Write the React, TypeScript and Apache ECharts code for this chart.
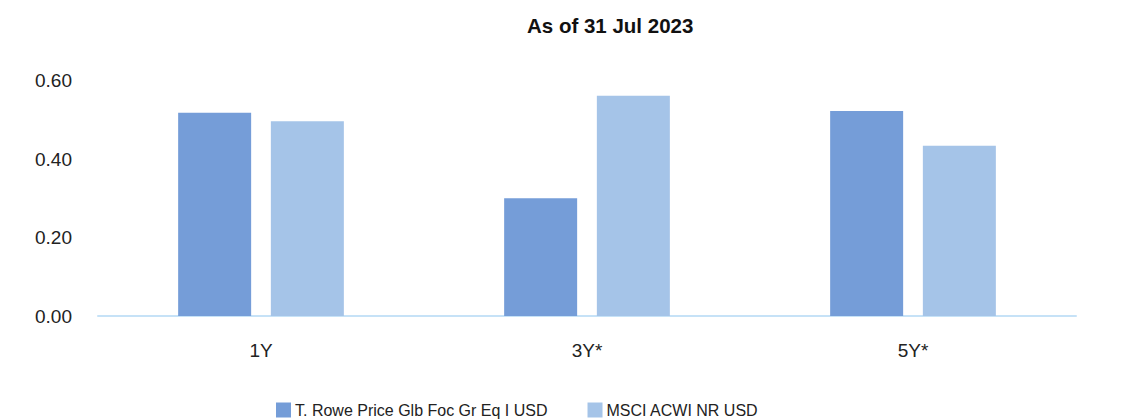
import React, { useEffect, useRef } from "react";
import * as echarts from "echarts";

const categories = ["1Y", "3Y*", "5Y*"];
const fundName = "T. Rowe Price Glb Foc Gr Eq I USD";
const benchName = "MSCI ACWI NR USD";
const fundValues = [0.518, 0.3, 0.522];
const benchValues = [0.496, 0.561, 0.434];
const yTicks = { min: 0, max: 0.6, interval: 0.2 };
const titleText = "As of 31 Jul 2023";

const FONT = "'Liberation Sans', Arial, Helvetica, sans-serif";

export default function App() {
  const ref = useRef<HTMLDivElement>(null);
  useEffect(() => {
    if (!ref.current) return;
    const chart = echarts.init(ref.current, undefined, { renderer: "svg" });
    chart.setOption({
      animation: false,
      backgroundColor: "#ffffff",
      textStyle: { fontFamily: FONT },
      title: {
        text: titleText,
        left: 527,
        top: 15,
        padding: 0,
        textStyle: { fontFamily: FONT, fontSize: 20.5, fontWeight: "bold", color: "#111111" },
      },
      legend: {
        left: 276,
        top: 402,
        padding: 0,
        itemWidth: 15,
        itemHeight: 15,
        itemGap: 40,
        icon: "rect",
        textStyle: { fontFamily: FONT, fontSize: 16, color: "#222222", padding: [0, 0, 0, -1] },
        data: [fundName, benchName],
      },
      grid: { left: 98, right: 58, top: 80.5, bottom: 104, containLabel: false },
      xAxis: {
        type: "category",
        data: categories,
        axisLine: { show: true, lineStyle: { color: "#c6e2f7", width: 2 } },
        axisTick: { show: false },
        axisLabel: { fontFamily: FONT, fontSize: 19, color: "#222222", margin: 25 },
      },
      yAxis: {
        type: "value",
        min: yTicks.min,
        max: yTicks.max,
        interval: yTicks.interval,
        splitLine: { show: false },
        axisLine: { show: false },
        axisTick: { show: false },
        axisLabel: {
          fontFamily: FONT,
          fontSize: 19,
          color: "#222222",
          margin: 26,
          formatter: (v: number) => v.toFixed(2),
        },
      },
      series: [
        {
          name: fundName,
          type: "bar",
          data: fundValues,
          barWidth: 73,
          barGap: "27%",
          itemStyle: { color: "#759dd8" },
        },
        {
          name: benchName,
          type: "bar",
          data: benchValues,
          barWidth: 73,
          barGap: "27%",
          itemStyle: { color: "#a5c4e8" },
        },
      ],
    });
    return () => chart.dispose();
  }, []);
  return (
    <div
      ref={ref}
      style={{ position: "fixed", left: 0, top: 0, width: 1134, height: 420 }}
    />
  );
}
